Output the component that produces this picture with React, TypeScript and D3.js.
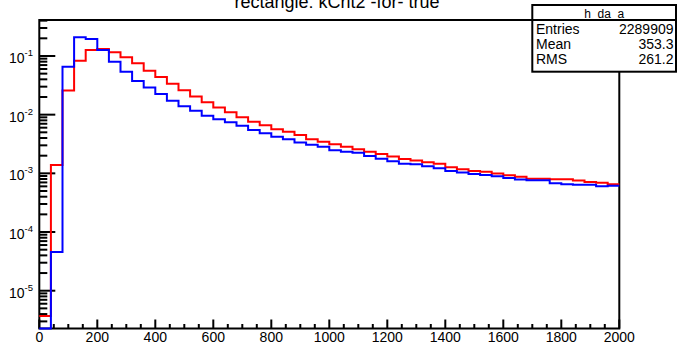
import React from 'react';
import * as d3 from 'd3';

const titleText = 'rectangle: kCrit2 -for- true';
const statsName = 'h_da_a';
const statsLabels = ['Entries', 'Mean', 'RMS'];
const statsValues = ['2289909', '353.3', '261.2'];

const binLow = [0, 40, 80, 120, 160, 200, 240, 280, 320, 360, 400, 440, 480, 520, 560, 600, 640, 680, 720, 760,
  800, 840, 880, 920, 960, 1000, 1040, 1080, 1120, 1160, 1200, 1240, 1280, 1320, 1360, 1400, 1440, 1480, 1520, 1560,
  1600, 1640, 1680, 1720, 1760, 1800, 1840, 1880, 1920, 1960];
const binWidth = 40;

const redValues = [3.72e-6, 1.39e-3, 0.0257, 0.0832, 0.126, 0.132, 0.116, 0.0951, 0.0752, 0.0562,
  0.0439, 0.0337, 0.0261, 0.0203, 0.0163, 0.0132, 0.0110, 0.00903, 0.00760, 0.00660,
  0.00564, 0.00513, 0.00451, 0.00381, 0.00347, 0.00314, 0.00285, 0.00258, 0.00234, 0.00214,
  0.00193, 0.00176, 0.00165, 0.00155, 0.00145, 0.00127, 0.00117, 0.00110, 0.00106, 0.000989,
  0.000932, 0.000879, 0.000812, 0.000805, 0.000794, 0.000790, 0.000752, 0.000713, 0.000694, 0.000651];

const blueValues = [0, 4.58e-5, 0.0658, 0.208, 0.195, 0.126, 0.0800, 0.0541, 0.0375, 0.0290,
  0.0225, 0.0173, 0.0139, 0.0117, 0.00961, 0.00835, 0.00743, 0.00650, 0.00549, 0.00482,
  0.00422, 0.00381, 0.00334, 0.00308, 0.00285, 0.00248, 0.00234, 0.00225, 0.00198, 0.00178,
  0.00161, 0.00145, 0.00143, 0.00132, 0.00122, 0.00110, 0.00103, 0.000977, 0.000940, 0.000893,
  0.000836, 0.000782, 0.000766, 0.000762, 0.000678, 0.000651, 0.000641, 0.000640, 0.000603, 0.000617];

const xMajorTicks = [0, 200, 400, 600, 800, 1000, 1200, 1400, 1600, 1800, 2000];
const xMinorStep = 50;
const yDecades = [-5, -4, -3, -2, -1];
const xDomain = [0, 2000];
const yDomain = [Math.pow(10, -5.644), Math.pow(10, -0.387)];

const W = 677;
const H = 345;
const F = { left: 39.3, right: 619.3, top: 20, bottom: 328.5 };
const FONT = '"Liberation Sans", Arial, Helvetica, sans-serif';

export default function App() {
  const x = d3.scaleLinear().domain(xDomain).range([F.left, F.right]);
  const y = d3.scaleLog().domain(yDomain).range([F.bottom, F.top]);
  const yc = (v: number) => (v > 0 ? Math.min(y(v), F.bottom) : F.bottom);

  const line = d3.line<[number, number]>().x(d => d[0]).y(d => d[1]);
  const histPath = (vals: number[]) => {
    const pts: [number, number][] = [];
    vals.forEach((v, i) => {
      pts.push([x(binLow[i]), yc(v)]);
      pts.push([x(binLow[i] + binWidth), yc(v)]);
    });
    return line(pts) || '';
  };

  const xMinor: number[] = [];
  for (let v = xDomain[0]; v <= xDomain[1]; v += xMinorStep) {
    if (!xMajorTicks.includes(v)) xMinor.push(v);
  }
  const yMinor: number[] = [];
  const [lo, hi] = y.domain();
  for (let e = Math.floor(Math.log10(lo)); e <= Math.ceil(Math.log10(hi)); e++) {
    for (let m = 2; m <= 9; m++) {
      const v = m * Math.pow(10, e);
      if (v >= lo && v <= hi) yMinor.push(v);
    }
  }

  const boxL = 532.3, boxR = 676, boxT = 5, boxSep = 20, boxB = 71.7;

  return (
    <svg width={W} height={H} style={{ position: 'absolute', left: 0, top: 0, background: '#fff' }}
      fontFamily={FONT}>
      <rect x={0} y={0} width={W} height={H} fill="#fff" />
      <text x={337} y={7.5} fontSize={18} textAnchor="middle" fill="#000">{titleText}</text>

      <rect x={F.left} y={F.top} width={F.right - F.left} height={F.bottom - F.top}
        fill="none" stroke="#000" strokeWidth={2} />

      {xMajorTicks.map(t => (
        <g key={'xm' + t}>
          <line x1={x(t)} x2={x(t)} y1={F.bottom} y2={F.bottom - 9} stroke="#000" strokeWidth={2} />
          <text x={x(t)} y={342} fontSize={14} textAnchor="middle" fill="#000">{t}</text>
        </g>
      ))}
      {xMinor.map(t => (
        <line key={'xn' + t} x1={x(t)} x2={x(t)} y1={F.bottom} y2={F.bottom - 4.5} stroke="#000" strokeWidth={2} />
      ))}

      {yDecades.map(e => {
        const yy = y(Math.pow(10, e));
        return (
          <g key={'yd' + e}>
            <line x1={F.left} x2={F.left + 16} y1={yy} y2={yy} stroke="#000" strokeWidth={2} />
            <text x={33} y={yy + 7} fontSize={14} textAnchor="end" fill="#000">
              <tspan>10</tspan>
              <tspan fontSize={9.5} dy={-7}>{String(e)}</tspan>
            </text>
          </g>
        );
      })}
      {yMinor.map((v, i) => (
        <line key={'yn' + i} x1={F.left} x2={F.left + 8} y1={y(v)} y2={y(v)} stroke="#000" strokeWidth={2} />
      ))}

      <path d={histPath(redValues)} fill="none" stroke="#ff0000" strokeWidth={2} />
      <path d={histPath(blueValues)} fill="none" stroke="#0000ff" strokeWidth={2} />

      <rect x={boxL} y={boxT} width={boxR - boxL} height={boxB - boxT} fill="#fff" stroke="#000" strokeWidth={2} />
      <line x1={boxL} x2={boxR} y1={boxSep} y2={boxSep} stroke="#000" strokeWidth={2} />
      <text x={(boxL + boxR) / 2} y={17.5} fontSize={12} textAnchor="middle" fill="#000">{statsName}</text>
      {statsLabels.map((l, i) => (
        <g key={l}>
          <text x={536} y={34 + i * 14.8} fontSize={14} fill="#000">{l}</text>
          <text x={673.5} y={34 + i * 14.8} fontSize={14} textAnchor="end" fill="#000">{statsValues[i]}</text>
        </g>
      ))}
    </svg>
  );
}
